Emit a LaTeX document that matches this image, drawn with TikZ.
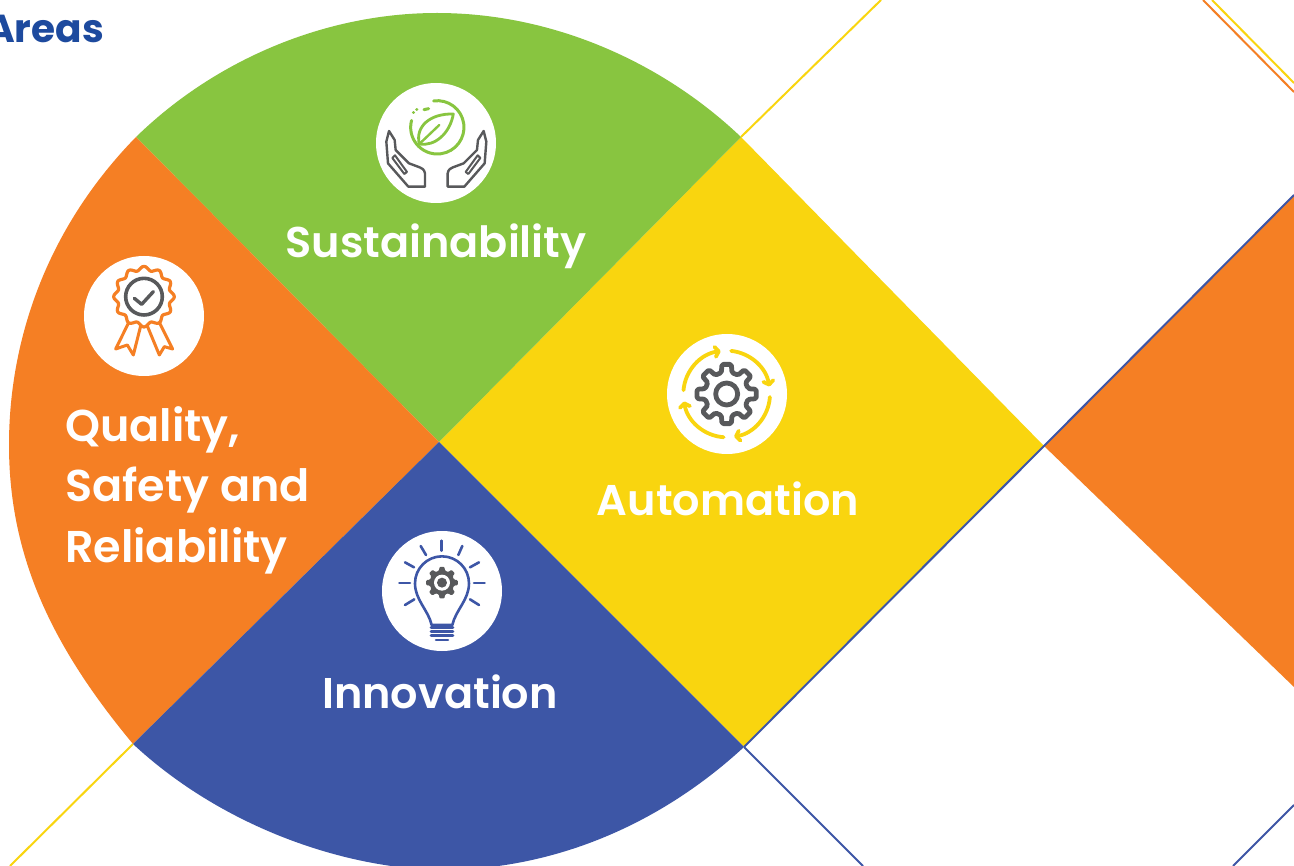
\documentclass[tikz,border=0pt]{standalone}
\usepackage{fontspec}
\setmainfont{Poppins}[BoldFont={Poppins SemiBold}]
\newfontfamily\popb{Poppins Bold}
\usetikzlibrary{arrows.meta}
\definecolor{cgreen}{HTML}{88C540}
\definecolor{corange}{HTML}{F57F24}
\definecolor{cyellow}{HTML}{F9D50F}
\definecolor{cblue}{HTML}{3D56A6}
\definecolor{cnavy}{HTML}{1D4A9E}
\definecolor{cgrey}{HTML}{58595B}
\tikzset{
  rule/.style={line width=2pt},
  badge/.style={fill=white,draw=none},
  label/.style={text=white,font=\bfseries\fontsize{43}{60}\selectfont,inner sep=0pt,anchor=base},
  labelb/.style={text=white,font=\bfseries\fontsize{44.5}{60}\selectfont,inner sep=0pt,anchor=base west},
  icon/.style={line cap=round,line join=round},
}
\newcommand{\gearteeth}[3]{% n-step, root, tip
  (-14:#2) \foreach \a in {0,#1,...,359} { -- ({\a-14}:#2) -- ({\a-9}:#3) -- ({\a+9}:#3) -- ({\a+14}:#2) } -- cycle}
\begin{document}
\begin{tikzpicture}[x=1pt,y=-1pt]
\useasboundingbox (0,0) rectangle (1294,866);
\clip (0,0) rectangle (1294,866);
\fill[white] (0,0) rectangle (1294,866);
% named corners
\coordinate (c) at (439,442);
\coordinate (tl) at (136,137);
\coordinate (tr) at (741,137);
\coordinate (r) at (1044,446);
\coordinate (br) at (744,747);
\coordinate (bl) at (133,744);
% outer rules
\coordinate (y1) at (881,0);
\coordinate (y2) at (10,866);
\coordinate (b1) at (1294,195);
\coordinate (b2) at (863,866);
\coordinate (b3a) at (1233,866);
\coordinate (b3b) at (1294,805);
\coordinate (o1a) at (1203,0);
\coordinate (o1b) at (1294,92);
\coordinate (y3a) at (1212,0);
\coordinate (y3b) at (1294,83);
\coordinate (o2) at (1294,687);
% lines under the shapes
\draw[rule,cyellow] (tr) -- (y1);
\draw[rule,cyellow] (bl) -- (y2);
\draw[rule,cblue] (br) -- (b2);
\draw[rule,cblue] (b3a) -- (b3b);
\draw[rule,corange] (o1a) -- (o1b);
\draw[rule,cyellow] (y3a) -- (y3b);
% right orange
\fill[corange] (r) -- (b1) -- (o2) -- cycle;
% sectors
\fill[cyellow] (tr) -- (r) -- (br) -- (c) -- cycle;
\fill[cgreen] (c) -- (tl) .. controls (215,60) and (325,13) .. (437,13) .. controls (550,13) and (660,60) .. (tr) -- cycle;
\fill[corange] (c) -- (tl) .. controls (50,225) and (9,335) .. (9,445) .. controls (9,560) and (55,650) .. (bl) -- cycle;
\fill[cblue] (c) -- (bl) .. controls (220,825) and (340,868) .. (440,870) .. controls (560,870) and (665,820) .. (br) -- cycle;
\draw[rule,cblue] (br) -- (r) -- (b1);
% badges
\fill[badge] (436,143) circle[radius=60];
\fill[badge] (144,316) circle[radius=60];
\fill[badge] (727,394) circle[radius=60];
\fill[badge] (442,591) circle[radius=60];
% sustainability icon
\begin{scope}[shift={(360pt,-70pt)},x=0.3333pt,y=-0.3333pt,icon]
  \draw[cgreen,line width=3pt] (232,172) ++(-98:80) arc[start angle=-98,end angle=195,radius=80];
  \draw[cgreen,line width=3pt] (192,119) -- (206,116);
  \draw[cgreen,line width=3pt] (160,128) -- (161,128);
  \draw[cgreen,line width=3pt] (170,118) -- (171,118);
  \draw[cgreen,line width=2.8pt] (178,222) .. controls (165,170) and (210,130) .. (280,132) .. controls (270,190) and (225,230) .. (178,222) -- cycle;
  \draw[cgreen,line width=2.4pt] (180,220) -- (238,165);
  \foreach \s in {1,-1}{
    \begin{scope}[shift={(229*0.3333pt,0pt)},xscale=\s]
      \draw[cgrey,line width=2.4pt] (-142,183) -- (-150,215) -- (-145,280) -- (-84,350) -- (-34,350) -- (-34,310) .. controls (-36,298) and (-44,294) .. (-50,292) -- (-82,280) -- (-112,250) -- (-122,240) -- (-125,210) -- cycle;
      \draw[cgrey,line width=2pt] (-124,256) -- (-88,306) -- (-96,312) -- (-132,264) -- cycle;
    \end{scope}
  }
\end{scope}
% quality icon
\begin{scope}[shift={(70pt,-245pt)},x=0.3333pt,y=-0.3333pt,icon]
  \draw[corange,line width=3.2pt] plot[domain=0:360,samples=121] ({222+85*cos(\x)+6*cos(12*\x)*cos(\x)},{155+85*sin(\x)+6*cos(12*\x)*sin(\x)}) -- cycle;
  \draw[corange,line width=3pt] (175,235) -- (137,312) -- (172,300) -- (190,330) -- (212,243);
  \draw[corange,line width=3pt] (232,243) -- (268,330) -- (283,305) -- (308,312) -- (268,232);
  \draw[cgrey,line width=3.6pt] (222,155) circle[radius=55];
  \draw[cgrey,line width=3.4pt] (193,160) -- (215,178) -- (250,140);
\end{scope}
% automation icon
\begin{scope}[shift={(655pt,-325pt)},x=0.3333pt,y=-0.3333pt,icon]
  \begin{scope}[shift={(215*0.3333pt,207*-0.3333pt)}]
    \draw[cgrey,line width=4.8pt,rounded corners=1.5pt] \gearteeth{45}{66}{90};
    \draw[cgrey,line width=4.8pt] (0,0) circle[radius=33];
    \foreach \a/\b in {-84/-10,4/80,94/170,185/262}{
      \draw[cyellow,line width=3.8pt,-{Straight Barb[length=3.6pt,width=10pt,round]}] (\a:130) arc[start angle=\a,end angle=\b,radius=130];
    }
  \end{scope}
\end{scope}
% innovation icon
\begin{scope}[shift={(370pt,-520pt)},x=0.3333pt,y=-0.3333pt,icon]
  \foreach \xa/\ya/\xb/\yb in {215/62/215/92,152/78/168/105,277/78/265/105,105/127/132/142,327/127/300/142,88/189/120/189,312/189/344/189,105/255/133/238,327/255/300/238}{
    \draw[cblue,line width=2.6pt] (\xa,\ya) -- (\xb,\yb);
  }
  \draw[cblue,line width=2.6pt] (185,315) .. controls (175,270) and (135,240) .. (135,190) arc[start angle=180,end angle=360,radius=81] .. controls (297,240) and (257,270) .. (247,315) -- cycle;
  \foreach \yy in {323,335,347}{\draw[cblue,line width=2.6pt] (183,\yy) -- (249,\yy);}
  \draw[cblue,line width=2.6pt] (198,360) -- (234,360);
  \begin{scope}[shift={(216*0.3333pt,188*-0.3333pt)}]
    \fill[cgrey,rounded corners=1pt] \gearteeth{45}{37}{48};
    \fill[white] (0,0) circle[radius=24];
    \fill[cgrey] (0,0) circle[radius=15];
  \end{scope}
\end{scope}
% labels
\node[label] (sus) at (436,258) {Sustainability};
\node[label] (aut) at (728,515) {Automation};
\node[label] (inn) at (440,708) {Innovation};
\node[labelb] (q1) at (65,442) {Quality,};
\node[labelb] (q2) at (65,502) {Safety and};
\node[labelb] (q3) at (65,562) {Reliability};
\node[text=cnavy,font=\popb\fontsize{39}{50}\selectfont,inner sep=0pt,anchor=base east] (areas) at (104,43) {Areas};
\end{tikzpicture}
\end{document}
